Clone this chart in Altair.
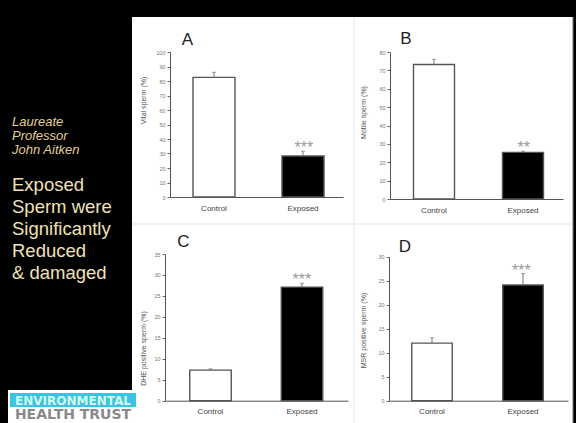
import altair as alt
import pandas as pd

FONT = "Liberation Sans"
W, H = 576, 423

GROUPS = ["Control", "Exposed"]

# A: vital sperm (%)
VITAL_MEAN = [82.5, 28.3]
VITAL_ERR = [3.5, 3.2]
VITAL_SIG = ["", "***"]
VITAL_TICKS = [0, 10, 20, 30, 40, 50, 60, 70, 80, 90, 100]

# B: motile sperm (%)
MOTILE_MEAN = [73.2, 25.4]
MOTILE_ERR = [2.8, 0.6]
MOTILE_SIG = ["", "**"]
MOTILE_TICKS = [0, 10, 20, 30, 40, 50, 60, 70, 80]

# C: DHE positive sperm (%)
DHE_MEAN = [7.3, 27.1]
DHE_ERR = [0.3, 0.9]
DHE_SIG = ["", "***"]
DHE_TICKS = [0, 5, 10, 15, 20, 25, 30, 35]

# D: MSR positive sperm (%)
MSR_MEAN = [12.0, 24.1]
MSR_ERR = [1.1, 2.4]
MSR_SIG = ["", "***"]
MSR_TICKS = [0, 5, 10, 15, 20, 25, 30]

SIDE_NAME = ["Laureate", "Professor", "John  Aitken"]
SIDE_MSG = ["Exposed", "Sperm were", "Significantly", "Reduced", "& damaged"]


def band_scale(x0, x1, c1, c2, w):
    """Band scale whose axis runs x0..x1 with bars of width w centred at c1, c2."""
    step = c2 - c1
    p_in = 1 - w / step
    span = x1 - x0
    p_out = (span / step - 2 + p_in) / 2
    start = c1 - w / 2
    align = (start - x0) / (span - step * (2 - p_in))
    return alt.Scale(domain=GROUPS, range=[x0, x1], paddingInner=p_in,
                     paddingOuter=p_out, align=align)


def panel(mean, err, sig, ticks, ymax, title, lay):
    df = pd.DataFrame({
        "group": GROUPS,
        "mean": mean,
        "upper": [m + e for m, e in zip(mean, err)],
        "sig": sig,
    })
    xs = band_scale(lay["x0"], lay["x1"], lay["c1"], lay["c2"], lay["w"])
    ys = alt.Scale(domain=[0, ymax], range=[lay["y0"], lay["y1"]], nice=False, zero=True)
    x_axis = alt.Axis(orient="bottom", offset=lay["y0"] - H, title=None, ticks=False,
                      labelAngle=0, labelFont=FONT, labelFontSize=8, labelColor="#444",
                      labelPadding=7, domainColor="#555", domainWidth=1, zindex=1)
    y_axis = alt.Axis(orient="left", offset=-lay["x0"], values=ticks, grid=False,
                      title=title, titleFont=FONT, titleFontSize=7, titleFontWeight="normal",
                      titleColor="#555", titleX=lay["tx"], titleY=lay["ty"],
                      titleAngle=270, titleBaseline="middle", titleAlign="center",
                      labelFont=FONT, labelFontSize=5.5, labelColor="#777", labelPadding=2,
                      tickSize=3, tickColor="#666", domainColor="#555", domainWidth=1,
                      zindex=1)
    base = alt.Chart(df)
    bars = base.mark_bar(stroke="#555", strokeWidth=1.4).encode(
        x=alt.X("group:N", scale=xs, axis=x_axis),
        y=alt.Y("mean:Q", scale=ys, axis=y_axis),
        fill=alt.Fill("group:N", scale=alt.Scale(domain=GROUPS, range=["#ffffff", "#000000"]),
                      legend=None),
    )
    whisk = base.mark_rule(color="#777", strokeWidth=1).encode(
        x=alt.X("group:N", scale=xs, axis=None),
        y=alt.Y("mean:Q", scale=ys, axis=None),
        y2="upper:Q",
    )
    caps = base.mark_tick(color="#777", size=4, thickness=1, orient="horizontal").encode(
        x=alt.X("group:N", scale=xs, axis=None),
        y=alt.Y("upper:Q", scale=ys, axis=None),
    )
    stars = base.mark_text(dy=2, font=FONT, fontSize=16, color="#999",
                           baseline="alphabetic").encode(
        x=alt.X("group:N", scale=xs, axis=None),
        y=alt.Y("upper:Q", scale=ys, axis=None),
        text="sig:N",
    )
    letter = alt.Chart(pd.DataFrame({"k": [0]})).mark_text(
        font=FONT, fontSize=17, color="#222", baseline="middle", align="center"
    ).encode(x=alt.value(lay["lx"]), y=alt.value(lay["ly"]), text=alt.value(lay["letter"]))
    return [bars, whisk, caps, stars, letter]


one = pd.DataFrame({"k": [0]})


def box(x, x2, y, y2, color):
    return alt.Chart(one).mark_rect(color=color).encode(
        x=alt.value(x), x2=alt.value(x2), y=alt.value(y), y2=alt.value(y2))


def line(x, x2, y, y2, color):
    return alt.Chart(one).mark_rule(color=color, strokeWidth=1).encode(
        x=alt.value(x), x2=alt.value(x2), y=alt.value(y), y2=alt.value(y2))


backdrop = [
    box(132, 573, 17, H, "#ffffff"),
    line(354, 354, 17, H, "#e4e4e4"),
    line(132, 573, 224, 224, "#e4e4e4"),
    line(573, 573, 17, H, "#777777"),
]

side = [
    alt.Chart(one).mark_text(font=FONT, fontSize=13, fontStyle="italic", color="#e6d08c",
                             align="left", baseline="alphabetic", lineHeight=14).encode(
        x=alt.value(12), y=alt.value(126), text=alt.value(SIDE_NAME)),
    alt.Chart(one).mark_text(font=FONT, fontSize=18.5, color="#f2e2b0",
                             align="left", baseline="alphabetic", lineHeight=22).encode(
        x=alt.value(12), y=alt.value(191), text=alt.value(SIDE_MSG)),
]

logo = [
    box(8, 136, 390, H, "#ffffff"),
    box(10, 136, 393, 407, "#38c4e4"),
    alt.Chart(one).mark_text(font="DejaVu Sans", fontSize=12, fontWeight="bold",
                             color="#dff5fb", align="center", baseline="middle").encode(
        x=alt.value(73), y=alt.value(400.5), text=alt.value("ENVIRONMENTAL")),
    alt.Chart(one).mark_text(font="DejaVu Sans", fontSize=14, fontWeight="bold",
                             color="#8a8a8a", align="center", baseline="middle").encode(
        x=alt.value(73), y=alt.value(415), text=alt.value("HEALTH TRUST")),
]

layers = backdrop + side + logo
layers += panel(VITAL_MEAN, VITAL_ERR, VITAL_SIG, VITAL_TICKS, 100, "Vital sperm (%)",
                dict(x0=170, x1=343, c1=214, c2=303, w=42, y0=197, y1=52,
                     tx=-27, ty=100, lx=187.5, ly=39.5, letter="A"))
layers += panel(MOTILE_MEAN, MOTILE_ERR, MOTILE_SIG, MOTILE_TICKS, 80, "Motile sperm (%)",
                dict(x0=390, x1=563, c1=434, c2=523, w=41, y0=199, y1=52,
                     tx=-27, ty=112, lx=406, ly=39, letter="B"))
layers += panel(DHE_MEAN, DHE_ERR, DHE_SIG, DHE_TICKS, 35, "DHE positive sperm (%)",
                dict(x0=165, x1=348, c1=210.5, c2=302, w=41.5, y0=400.7, y1=254,
                     tx=-22, ty=348, lx=183.5, ly=241.5, letter="C"))
layers += panel(MSR_MEAN, MSR_ERR, MSR_SIG, MSR_TICKS, 30, "MSR positive sperm (%)",
                dict(x0=389, x1=568, c1=432, c2=523, w=40.5, y0=400.7, y1=256.7,
                     tx=-26, ty=330, lx=405, ly=246.5, letter="D"))

chart = (
    alt.layer(*layers)
    .resolve_scale(x="independent", y="independent")
    .resolve_axis(x="independent", y="independent")
    .properties(width=W, height=H, autosize=alt.AutoSizeParams(type="none"),
                padding=0, background="black")
    .configure_view(stroke=None)
)

chart.save("out.html", embed_options={"renderer": "svg", "actions": False})
